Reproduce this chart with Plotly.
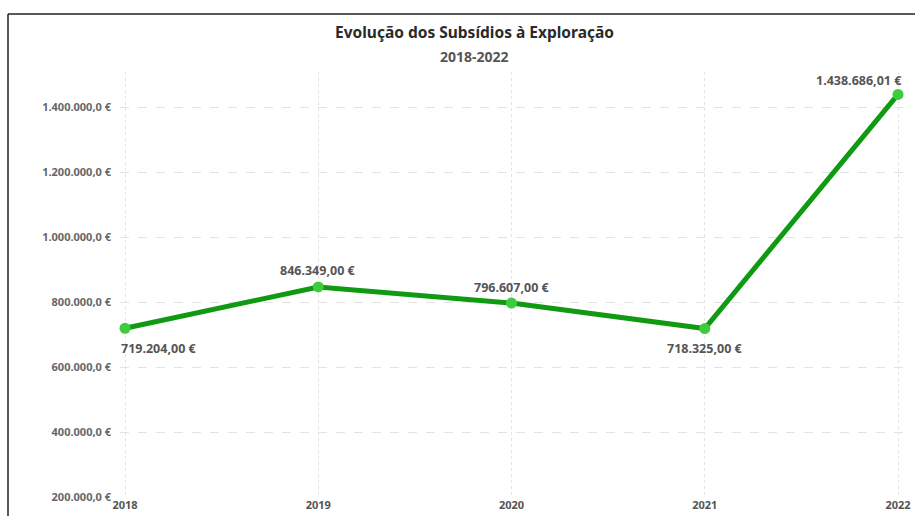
import plotly.graph_objects as go

years = [2018, 2019, 2020, 2021, 2022]
values = [719204.00, 846349.00, 796607.00, 718325.00, 1438686.01]
y_ticks = [200000, 400000, 600000, 800000, 1000000, 1200000, 1400000]
y_tick_labels = ["200.000,0 €", "400.000,0 €", "600.000,0 €", "800.000,0 €",
                 "1.000.000,0 €", "1.200.000,0 €", "1.400.000,0 €"]
label_pos = ["below", "above", "above", "below", "above"]
title_text = "Evolução dos Subsídios à Exploração"
subtitle_text = "2018-2022"


def fmt_eur(v):
    s = f"{v:,.2f}".replace(",", "X").replace(".", ",").replace("X", ".")
    return s + " €"


W, H = 915, 516
L, R, T, B = 120, 910, 72, 497


def px_x(p):
    return (p - L) / (R - L)


def px_y(p):
    return (B - p) / (B - T)


fig = go.Figure()
fig.add_trace(go.Scatter(
    x=years, y=values, mode="lines+markers",
    line=dict(color="#109a12", width=5),
    marker=dict(color="#3ccc3c", size=11),
    cliponaxis=False, hoverinfo="skip", showlegend=False,
))

label_font = dict(family="Noto Sans", size=12.5, color="#555555")
for i, (x, v, pos) in enumerate(zip(years, values, label_pos)):
    xanchor = "center"
    xshift = 0
    if i == 0:
        xanchor = "left"
        xshift = -6
    if i == len(years) - 1:
        xanchor = "right"
        xshift = 6
    fig.add_annotation(
        x=x, y=v, xref="x", yref="y", text="<b>" + fmt_eur(v) + "</b>",
        showarrow=False, font=label_font, xanchor=xanchor, xshift=xshift,
        yanchor="middle", yshift=(-20 if pos == "below" else 16) if i != len(years) - 1 else 14,
    )

fig.add_annotation(
    x=px_x(474), y=px_y(32), xref="paper", yref="paper",
    text="<b>" + title_text + "</b>", showarrow=False,
    font=dict(family="Noto Sans", size=15.5, color="#2a2a2a"),
    xanchor="center", yanchor="middle",
)
fig.add_annotation(
    x=px_x(474), y=px_y(56), xref="paper", yref="paper",
    text="<b>" + subtitle_text + "</b>", showarrow=False,
    font=dict(family="Noto Sans", size=14, color="#555555"),
    xanchor="center", yanchor="middle",
)

# frame lines (left and top)
fig.add_shape(type="line", xref="paper", yref="paper",
              x0=px_x(8), x1=px_x(8), y0=px_y(14), y1=px_y(530),
              line=dict(color="#222222", width=1.5))
fig.add_shape(type="line", xref="paper", yref="paper",
              x0=px_x(8), x1=px_x(930), y0=px_y(14), y1=px_y(14),
              line=dict(color="#222222", width=1.5))

fig.update_xaxes(
    range=[2017.974, 2022.062], tickvals=years,
    ticktext=["<b>%d</b>" % y for y in years],
    showgrid=True, gridcolor="#e3e3e3", griddash="dot", gridwidth=1,
    zeroline=False, showline=False, ticks="",
    tickfont=dict(family="Noto Sans", size=11, color="#555555"),
)
yr_per_px = 200000 / 65
fig.update_yaxes(
    range=[200000, 1400000 + (107 - 72) * yr_per_px], tickvals=y_ticks,
    ticktext=["<b>" + t + "</b>" for t in y_tick_labels],
    showgrid=True, gridcolor="#e3e3e3", griddash="dash", gridwidth=1,
    zeroline=False, showline=False, ticks="", ticklabelstandoff=8,
    tickfont=dict(family="Noto Sans", size=11, color="#666666"),
)
fig.update_layout(
    width=W, height=H, margin=dict(l=L, r=W - R, t=T, b=H - B),
    plot_bgcolor="white", paper_bgcolor="white",
)
fig.write_html("out.html")
